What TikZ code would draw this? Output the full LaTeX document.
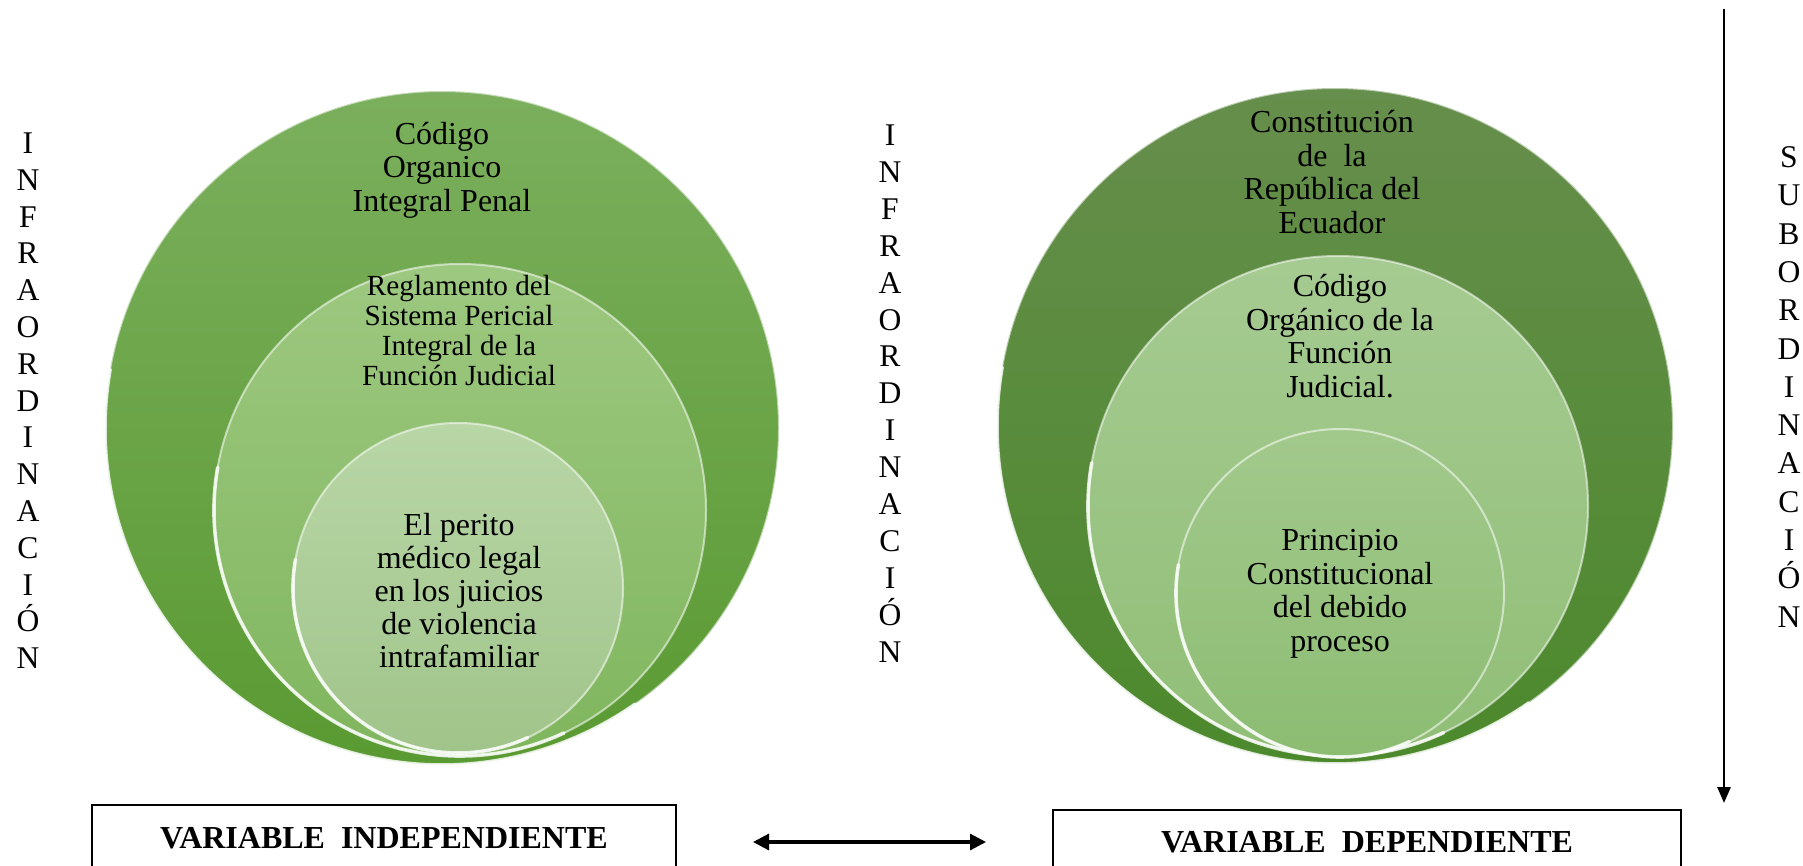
\documentclass[tikz,border=0pt]{standalone}
\usepackage{fontspec}
\setmainfont{Liberation Serif}
\usetikzlibrary{arrows.meta}
\definecolor{gAa}{HTML}{7BAF5D}
\definecolor{gAb}{HTML}{5A9A32}
\definecolor{gBa}{HTML}{9DC880}
\definecolor{gBb}{HTML}{80B65E}
\definecolor{gCa}{HTML}{B8D6A6}
\definecolor{gCb}{HTML}{A0C48A}
\definecolor{gDa}{HTML}{668E4C}
\definecolor{gDb}{HTML}{4C892C}
\definecolor{gEa}{HTML}{A6CB92}
\definecolor{gEb}{HTML}{90BE76}
\definecolor{gFa}{HTML}{A2C98C}
\definecolor{gFb}{HTML}{8CBC72}
\begin{document}
\begin{tikzpicture}[x=0.5pt,y=-0.5pt,
  disc/.style={circle, inner sep=0pt, outer sep=0pt, draw=white, draw opacity=0.55, line width=1pt},
  rim/.style={draw=white, opacity=0.8, line width=1.8pt, line cap=round},
  lbl/.style={align=center, font=\fontsize{16}{16.75}\selectfont, inner sep=0pt},
  vletter/.style={anchor=base, inner sep=0pt, font=\fontsize{15.8}{18}\selectfont},
  varbox/.style={draw=black, line width=0.8pt, font=\bfseries\fontsize{16}{18}\selectfont, inner sep=0pt},
  conn/.style={line width=1.6pt, draw=black}]
\useasboundingbox (0,0) rectangle (1803,866);
\clip (0,0) rectangle (1803,866);
\fill[white] (0,0) rectangle (1803,866);

% left circles
\node[disc, minimum size=337pt, top color=gAa, bottom color=gAb] (c1) at (442,428) {};
\draw[rim] (c1.170) arc[start angle=170, end angle=305, radius=168.5pt];
\node[disc, minimum size=246pt, top color=gBa, bottom color=gBb] (c2) at (460,510) {};
\draw[rim] (c2.170) arc[start angle=170, end angle=295, radius=123pt];
\node[disc, minimum size=165pt, top color=gCa, bottom color=gCb] (c3) at (458,588) {};
\draw[rim] (c3.170) arc[start angle=170, end angle=295, radius=82.5pt];

% right circles
\node[disc, minimum size=338pt, top color=gDa, bottom color=gDb] (c4) at (1335,426) {};
\draw[rim] (c4.170) arc[start angle=170, end angle=305, radius=169pt];
\node[disc, minimum size=250pt, top color=gEa, bottom color=gEb] (c5) at (1338,506) {};
\draw[rim] (c5.170) arc[start angle=170, end angle=295, radius=125pt];
\node[disc, minimum size=164pt, top color=gFa, bottom color=gFb] (c6) at (1340,593) {};
\draw[rim] (c6.170) arc[start angle=170, end angle=295, radius=82pt];

% circle texts
\node[lbl] (t1) at (442,170) {Código\\Organico\\Integral Penal};
\node[lbl, font=\fontsize{14.6}{15}\selectfont] (t2) at (459,331) {Reglamento del\\Sistema Pericial\\Integral de la\\Función Judicial};
\node[lbl, font=\fontsize{16}{16.5}\selectfont] (t3) at (459,591) {El perito\\médico legal\\en los juicios\\de violencia\\intrafamiliar};
\node[lbl] (t4) at (1332,172) {Constitución\\de\ \ la\\República del\\Ecuador};
\node[lbl] (t5) at (1340,336) {Código\\Orgánico de la\\Función\\Judicial.};
\node[lbl] (t6) at (1340,594) {Principio\\Constitucional\\del debido\\proceso};

% vertical words
\foreach \ch [count=\i from 0] in {I,N,F,R,A,O,R,D,I,N,A,C,I,Ó,N}
  \node[vletter] (la\i) at (28,153.5+36.8*\i) {\ch};
\foreach \ch [count=\i from 0] in {I,N,F,R,A,O,R,D,I,N,A,C,I,Ó,N}
  \node[vletter] (lb\i) at (890,145.5+36.9*\i) {\ch};
\foreach \ch [count=\i from 0] in {S,U,B,O,R,D,I,N,A,C,I,Ó,N}
  \node[vletter] (lc\i) at (1789,167.5+38.3*\i) {\ch};

% variable boxes
\node[varbox, minimum width=292pt, minimum height=33pt] (vi) at (384,838) {VARIABLE\ \ INDEPENDIENTE};
\node[varbox, minimum width=314pt, minimum height=32pt] (vd) at (1367,842) {VARIABLE\ \ DEPENDIENTE};

% arrows
\coordinate (h1) at (753,842);
\coordinate (h2) at (986,842);
\draw[conn, {Triangle[length=8pt,width=8pt]}-{Triangle[length=8pt,width=8pt]}] (h1) -- (h2);
\coordinate (v1) at (1724,9);
\coordinate (v2) at (1724,803);
\draw[conn, line width=1.4pt, -{Triangle[length=8pt,width=6.5pt]}] (v1) -- (v2);
\end{tikzpicture}
\end{document}
